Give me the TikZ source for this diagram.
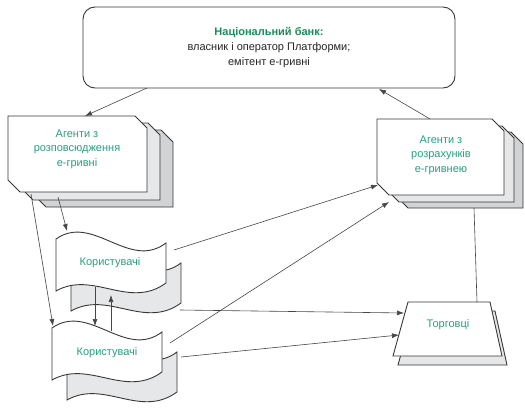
\documentclass[tikz,border=0pt]{standalone}
\usepackage{fontspec}
\setmainfont{Liberation Sans}
\usetikzlibrary{arrows.meta}
\definecolor{tealtxt}{RGB}{38,160,130}
\definecolor{titlegreen}{RGB}{30,140,90}
\definecolor{grayA}{RGB}{230,231,232}
\definecolor{grayB}{RGB}{209,211,212}
\definecolor{edgecol}{RGB}{55,55,55}
\definecolor{lnkcol}{RGB}{70,70,70}
\newcommand{\cardshape}[6]{\draw[outl, fill=#6] (#1,#2) -- (#3-#5,#2) -- (#3,#2+#5) -- (#3,#4) -- (#1+#5,#4) -- (#1,#4-#5) -- cycle;}
\newcommand{\waveshape}[3]{\draw[outl, fill=#3, shift={(#1,#2)}] (0,0) .. controls (37,-26) and (73,32) .. (110,4) -- (110,44) .. controls (73,71) and (37,31) .. (0,52) -- cycle;}
\begin{document}
\begin{tikzpicture}[x=1pt,y=-1pt,
  outl/.style={draw=edgecol,line width=0.9pt,line join=miter},
  conn/.style={draw=lnkcol,line width=0.6pt},
  arr/.style={conn,-{Latex[length=7pt,width=5pt]}},
  lbl/.style={font=\fontsize{11}{14.5}\selectfont, text=tealtxt, align=center, inner sep=0pt}]
\useasboundingbox (0,0) rectangle (525,412);
\fill[white] (0,0) rectangle (525,412);

% National bank
\draw[outl, rounded corners=12pt] (83,7) rectangle (455,88);
\node[align=center, inner sep=0pt, font=\fontsize{11}{15}\selectfont, text=black!85] (nbu) at (269,48)
  {{\bfseries\color{titlegreen}Національний банк:}\\власник і оператор Платформи;\\емітент е-гривні};

% left agents
\cardshape{34}{130}{173}{207}{12}{grayB}
\cardshape{21}{123}{160}{200}{12}{grayA}
\cardshape{8}{116}{147}{192}{12}{white}
\node[lbl] (agL) at (77,149) {Агенти з\\розповсюдження\\е-гривні};

% right agents
\cardshape{396}{132}{523}{208}{12}{grayB}
\cardshape{387}{126}{514}{202}{12}{grayA}
\cardshape{377}{119}{504}{195}{12}{white}
\node[lbl] (agR) at (441,155) {Агенти з\\розрахунків\\е-гривнею};

% users
\waveshape{71}{259}{grayA}
\waveshape{56}{239}{white}
\node[lbl] (usr1) at (110,263) {Користувачі};
\waveshape{67}{348}{grayA}
\waveshape{52}{328}{white}
\node[lbl] (usr2) at (107,353) {Користувачі};

% merchants
\draw[outl, fill=grayA] (413,311) -- (495,311) -- (507,365) -- (398,365) -- cycle;
\draw[outl, fill=white] (408,302) -- (490,302) -- (502,356) -- (393,356) -- cycle;
\node[lbl] (trd) at (448,325) {Торговці};

% connector points
\coordinate (nbuBL) at (147,88);
\coordinate (agLtop) at (85,116);
\coordinate (agRtop) at (430,119);
\coordinate (nbuBR) at (379,89);
\coordinate (agLb1) at (31,194);
\coordinate (usr2tl) at (53,326);
\coordinate (agLb2) at (58,197);
\coordinate (usr1t) at (67,231);
\coordinate (usr1r) at (174,250);
\coordinate (agRbl1) at (378,185);
\coordinate (usr2r) at (170,343);
\coordinate (agRbl2) at (389,202);
\coordinate (usr1b) at (180,310);
\coordinate (trdL1) at (404,313);
\coordinate (usr2b) at (181,357);
\coordinate (trdL2) at (399,335);
\coordinate (agRb) at (474,208);
\coordinate (trdT) at (477,302);
\coordinate (v1s) at (95,287);
\coordinate (v1e) at (95,326);
\coordinate (v2s) at (111,331);
\coordinate (v2e) at (111,295);

\draw[arr] (nbuBL) -- (agLtop);
\draw[arr] (agRtop) -- (nbuBR);
\draw[arr] (agLb1) -- (usr2tl);
\draw[arr] (agLb2) -- (usr1t);
\draw[arr] (usr1r) -- (agRbl1);
\draw[arr] (usr2r) -- (agRbl2);
\draw[arr] (usr1b) -- (trdL1);
\draw[arr] (usr2b) -- (trdL2);
\draw[conn] (agRb) -- (trdT);
\draw[arr] (v1s) -- (v1e);
\draw[arr] (v2s) -- (v2e);
\end{tikzpicture}
\end{document}
